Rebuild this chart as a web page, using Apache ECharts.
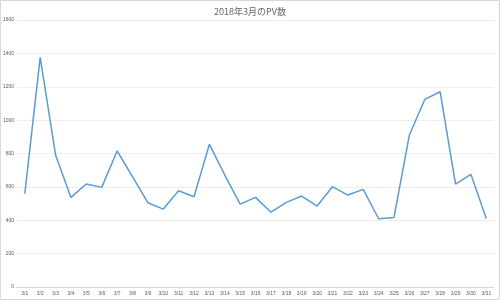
<!DOCTYPE html>
<html><head><meta charset="utf-8">
<script src="https://cdn.jsdelivr.net/npm/echarts@6/dist/echarts.min.js"></script>
<style>html,body{margin:0;padding:0;background:#fff}#c{width:500px;height:300px}</style>
</head><body><div id="c"></div>
<script>
const titleText = '2018年3月のPV数';
const categories = ['3/1','3/2','3/3','3/4','3/5','3/6','3/7','3/8','3/9','3/10','3/11','3/12','3/13','3/14','3/15','3/16','3/17','3/18','3/19','3/20','3/21','3/22','3/23','3/24','3/25','3/26','3/27','3/28','3/29','3/30','3/31'];
const pv = [560,1376,791,537,617,597,815,661,505,467,577,541,855,671,497,537,448,507,545,485,601,551,585,409,417,911,1124,1170,617,675,411];
const yTicks = [0,200,400,600,800,1000,1200,1400,1600];

const chart = echarts.init(document.getElementById('c'), null, {renderer:'canvas'});
chart.setOption({
  animation:false,
  backgroundColor:'#fff',
  title:{text:titleText,left:'center',top:2,textStyle:{fontSize:9,fontWeight:'normal',color:'#666666',fontFamily:'Noto Sans CJK JP'}},
  graphic:[{type:'rect',shape:{x:0.5,y:0.5,width:499,height:299},style:{fill:'none',stroke:'#d9d9d9',lineWidth:1}}],
  grid:{left:17,right:6,top:20,bottom:13,containLabel:false},
  xAxis:{type:'category',data:categories,boundaryGap:true,
    axisLine:{lineStyle:{color:'#d9d9d9'}},axisTick:{show:false},
    axisLabel:{fontSize:5,color:'#595959',margin:4,interval:0}},
  yAxis:{type:'value',min:0,max:1600,interval:200,
    axisLine:{show:false},axisTick:{show:false},
    splitLine:{lineStyle:{color:'#eeeeee'}},
    axisLabel:{fontSize:5,color:'#595959',margin:3,formatter:v=>yTicks.includes(v)?String(v):''}},
  series:[{type:'line',data:pv,symbol:'none',lineStyle:{color:'#5b9bd5',width:1.5}}]
});
</script></body></html>
